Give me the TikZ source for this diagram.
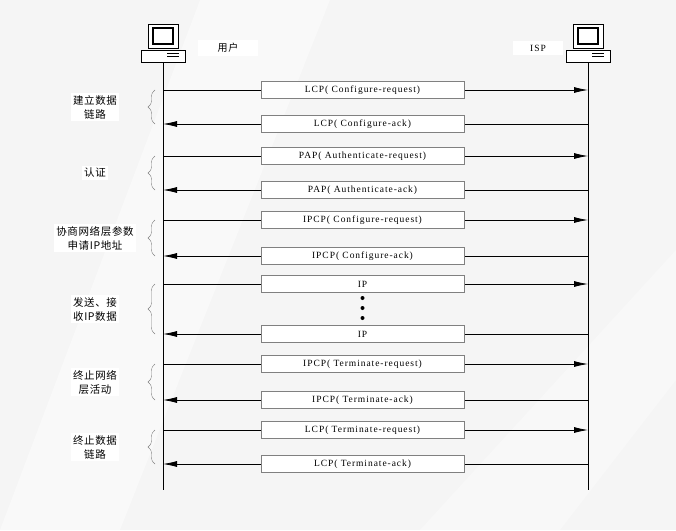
\documentclass[tikz,border=0pt]{standalone}
\usepackage{fontspec}
\setmainfont{Liberation Serif}[LetterSpace=10]
\newfontfamily\cjk{Noto Sans CJK SC}[LetterSpace=6]
\usetikzlibrary{decorations.pathreplacing,arrows.meta}
\tikzset{
    msgbox/.style={draw=gray, fill=white, minimum width=203pt, minimum height=17pt, inner sep=0pt, font=\fontsize{9.5}{11}\selectfont},
    msgline/.style={line width=0.8pt},
    phase/.style={font=\cjk\fontsize{10.5}{14}\selectfont, align=center, fill=white, inner sep=2pt},
    pcbrace/.style={decorate, decoration={brace, amplitude=7pt}, gray}
}
\newcommand{\pcicon}[2]{%
    \draw[fill=white] (#1-15,#2-2) rectangle (#1+15,#2-26);
    \draw[fill=white,line width=1.2pt] (#1-10,#2-6) rectangle (#1+10,#2-22);
    \draw[fill=white] (#1-22,#2) rectangle (#1+22,#2+12);
    \draw (#1+4,#2+3) -- (#1+16,#2+3) (#1+4,#2+6) -- (#1+16,#2+6);
}
\begin{document}
\begin{tikzpicture}[x=1pt, y=-1pt]
\useasboundingbox[fill=gray!8] (0,0) rectangle (676,530);
\fill[white, opacity=0.4] (0,530) -- (200,0) -- (330,0) -- (120,530) -- cycle;
\fill[white, opacity=0.3] (420,530) -- (676,250) -- (676,380) -- (560,530) -- cycle;

% hosts
\coordinate (u0) at (163,62);
\coordinate (u1) at (163,490);
\coordinate (s0) at (588,62);
\coordinate (s1) at (588,490);
\draw[line width=0.8pt] (u0) -- (u1);
\draw[line width=0.8pt] (s0) -- (s1);
\pcicon{163}{50}
\pcicon{588}{50}
\node[fill=white, font=\cjk\fontsize{10}{12}\selectfont, minimum width=60pt] (user) at (228,48) {用户};
\node[fill=white, font=\fontsize{9.5}{11}\selectfont, minimum width=50pt] (isp) at (538,48) {ISP};

% messages
\foreach \y/\txt/\dir in {
    90/{LCP( Configure-request)}/r,
    124/{LCP( Configure-ack)}/l,
    156/{PAP( Authenticate-request)}/r,
    190/{PAP( Authenticate-ack)}/l,
    220/{IPCP( Configure-request)}/r,
    256/{IPCP( Configure-ack)}/l,
    284/{IP}/r,
    334/{IP}/l,
    364/{IPCP( Terminate-request)}/r,
    400/{IPCP( Terminate-ack)}/l,
    430/{LCP( Terminate-request)}/r,
    464/{LCP( Terminate-ack)}/l} {
    \coordinate (a) at (163,\y);
    \coordinate (b) at (588,\y);
    \if r\dir
        \draw[msgline, -{Latex[length=14pt,width=6pt]}] (a) -- (b);
    \else
        \draw[msgline, {Latex[length=14pt,width=6pt]}-] (a) -- (b);
    \fi
    \node[msgbox] (m) at (362.5,\y) {\txt};
}
\foreach \y in {298,308,318}
    \fill (362.5,\y) circle (2pt);

% phases
\foreach \ya/\yb/\txt in {
    90/124/{建立数据\\链路},
    156/190/{认证},
    220/256/{协商网络层参数\\申请IP地址},
    284/334/{发送、接\\收IP数据},
    364/400/{终止网络\\层活动},
    430/464/{终止数据\\链路}} {
    \draw[pcbrace] (155,\yb) -- (155,\ya);
    \node[phase] (p) at (95,{(\ya+\yb)/2}) {\txt};
}
\end{tikzpicture}
\end{document}
